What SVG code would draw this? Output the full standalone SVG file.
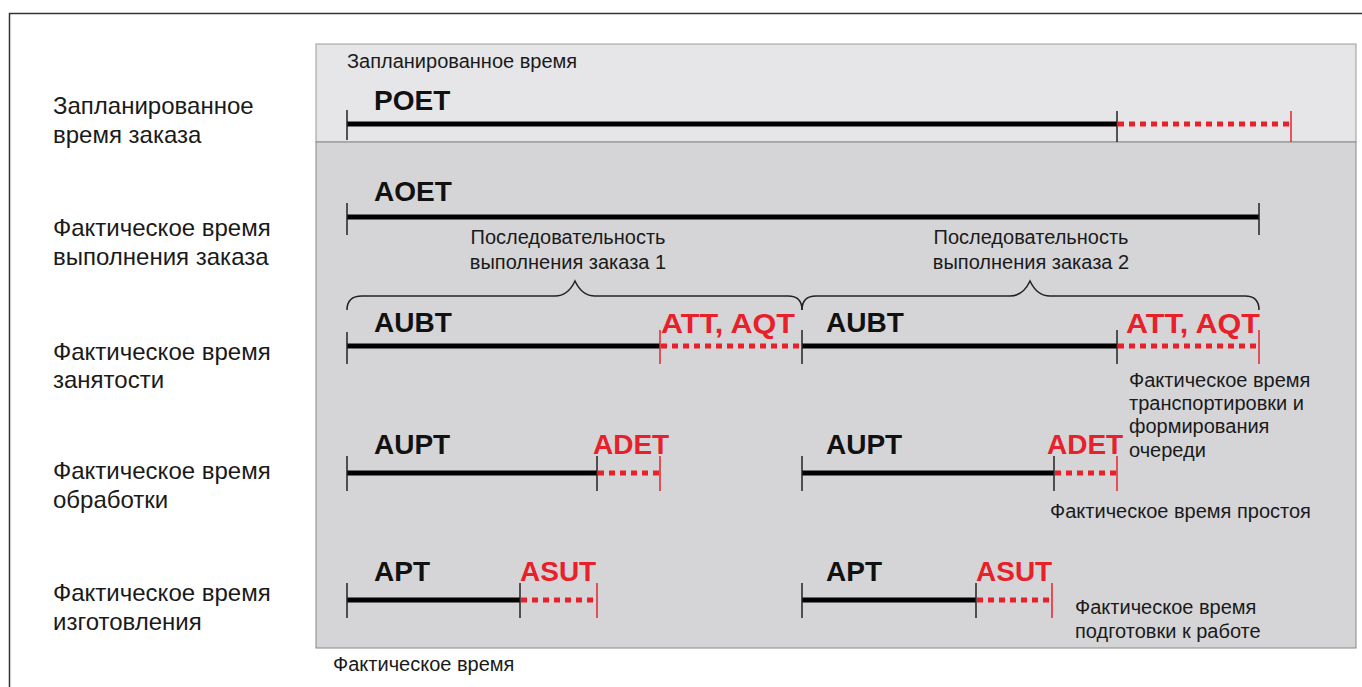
<svg xmlns="http://www.w3.org/2000/svg" width="1362" height="687" viewBox="0 0 1362 687">
<style>
.lab{font-family:"Liberation Sans",Arial,sans-serif;font-size:24px;fill:#1a1a1a}
.sm{font-family:"Liberation Sans",Arial,sans-serif;font-size:20px;fill:#1a1a1a}
.b{font-family:"Liberation Sans",Arial,sans-serif;font-size:28px;font-weight:bold;fill:#111}
.r{font-family:"Liberation Sans",Arial,sans-serif;font-size:28px;font-weight:bold;fill:#e8202a}
.bl{stroke:#000;stroke-width:5;fill:none}
.rd{stroke:#e8202a;stroke-width:5;stroke-dasharray:6 5;fill:none}
.tk{stroke:#222;stroke-width:1.5}
.tr{stroke:#e8202a;stroke-width:1.5}
.br{stroke:#222;stroke-width:1.5;fill:none}
</style>
<rect width="1362" height="687" fill="#fff"/>
<path d="M9.5 690 V13.5 H1362" fill="none" stroke="#333" stroke-width="1.5"/>
<g id="panel">
<rect x="316" y="44" width="1040" height="98" fill="#e6e6e8" stroke="#999" stroke-width="1"/>
<rect x="316" y="142" width="1040" height="506" fill="#d5d5d7" stroke="#888" stroke-width="1"/>
</g>
<g id="labels">
<text class="lab" x="53" y="114">Запланированное</text>
<text class="lab" x="53" y="143">время заказа</text>
<text class="lab" x="53" y="236">Фактическое время</text>
<text class="lab" x="53" y="265">выполнения заказа</text>
<text class="lab" x="53" y="360">Фактическое время</text>
<text class="lab" x="53" y="388">занятости</text>
<text class="lab" x="53" y="479">Фактическое время</text>
<text class="lab" x="53" y="508">обработки</text>
<text class="lab" x="53" y="601">Фактическое время</text>
<text class="lab" x="53" y="630">изготовления</text>
<text class="sm" x="347" y="68">Запланированное время</text>
<text class="sm" x="333" y="671">Фактическое время</text>
</g>
<g id="poet">
<text class="b" x="374" y="110">POET</text>
<line class="bl" x1="347" y1="124" x2="1117" y2="124"/>
<line class="rd" x1="1118" y1="124" x2="1291" y2="124"/>
<line class="tk" x1="347" y1="110" x2="347" y2="140"/>
<line class="tk" x1="1117" y1="111" x2="1117" y2="142"/>
<line class="tr" x1="1291" y1="111" x2="1291" y2="142"/>
</g>
<g id="aoet">
<text class="b" x="374" y="201">AOET</text>
<line class="bl" x1="347" y1="217" x2="1259" y2="217"/>
<line class="tk" x1="347" y1="203" x2="347" y2="235"/>
<line class="tk" x1="1259" y1="203" x2="1259" y2="235"/>
</g>
<g id="seq1">
<text class="sm" x="568" y="244" text-anchor="middle">Последовательность</text>
<text class="sm" x="568" y="269" text-anchor="middle">выполнения заказа 1</text>
<path class="br" d="M347 310 Q347 296 362 296 H555 Q568 296 575 281 Q582 296 595 296 H788 Q802 296 802 310"/>
</g>
<g id="seq2">
<text class="sm" x="1031" y="244" text-anchor="middle">Последовательность</text>
<text class="sm" x="1031" y="269" text-anchor="middle">выполнения заказа 2</text>
<path class="br" d="M802 310 Q802 296 816 296 H1010 Q1023 296 1030 281 Q1037 296 1050 296 H1245 Q1259 296 1259 310"/>
</g>
<g id="aubt">
<text class="b" x="374" y="332">AUBT</text>
<text class="r" x="661" y="333" font-size="30" textLength="134" lengthAdjust="spacingAndGlyphs">ATT, AQT</text>
<text class="b" x="826" y="332">AUBT</text>
<text class="r" x="1126" y="333" font-size="30" textLength="134" lengthAdjust="spacingAndGlyphs">ATT, AQT</text>
<line class="bl" x1="347" y1="346" x2="660" y2="346"/>
<line class="rd" x1="661" y1="346" x2="802" y2="346"/>
<line class="bl" x1="802" y1="346" x2="1117" y2="346"/>
<line class="rd" x1="1118" y1="346" x2="1259" y2="346"/>
<line class="tk" x1="347" y1="332" x2="347" y2="364"/>
<line class="tr" x1="660" y1="330" x2="660" y2="364"/>
<line class="tk" x1="802" y1="330" x2="802" y2="364"/>
<line class="tk" x1="1117" y1="330" x2="1117" y2="364"/>
<line class="tr" x1="1259" y1="330" x2="1259" y2="364"/>
<text class="sm" x="1129" y="387">Фактическое время</text>
<text class="sm" x="1129" y="410">транспортировки и</text>
<text class="sm" x="1129" y="433">формирования</text>
<text class="sm" x="1129" y="457">очереди</text>
</g>
<g id="aupt">
<text class="b" x="374" y="454">AUPT</text>
<text class="r" x="593" y="454">ADET</text>
<text class="b" x="826" y="454">AUPT</text>
<text class="r" x="1047" y="454">ADET</text>
<line class="bl" x1="347" y1="473" x2="597" y2="473"/>
<line class="rd" x1="598" y1="473" x2="660" y2="473"/>
<line class="bl" x1="802" y1="473" x2="1054" y2="473"/>
<line class="rd" x1="1055" y1="473" x2="1117" y2="473"/>
<line class="tk" x1="347" y1="456" x2="347" y2="491"/>
<line class="tk" x1="597" y1="456" x2="597" y2="491"/>
<line class="tr" x1="660" y1="456" x2="660" y2="491"/>
<line class="tk" x1="802" y1="456" x2="802" y2="491"/>
<line class="tk" x1="1054" y1="456" x2="1054" y2="491"/>
<line class="tr" x1="1117" y1="456" x2="1117" y2="491"/>
<text class="sm" x="1050" y="518">Фактическое время простоя</text>
</g>
<g id="apt">
<text class="b" x="374" y="581">APT</text>
<text class="r" x="520" y="581">ASUT</text>
<text class="b" x="826" y="581">APT</text>
<text class="r" x="976" y="581">ASUT</text>
<line class="bl" x1="347" y1="600" x2="520" y2="600"/>
<line class="rd" x1="521" y1="600" x2="597" y2="600"/>
<line class="bl" x1="802" y1="600" x2="976" y2="600"/>
<line class="rd" x1="977" y1="600" x2="1052" y2="600"/>
<line class="tk" x1="347" y1="583" x2="347" y2="618"/>
<line class="tk" x1="520" y1="583" x2="520" y2="618"/>
<line class="tr" x1="597" y1="583" x2="597" y2="618"/>
<line class="tk" x1="802" y1="583" x2="802" y2="618"/>
<line class="tk" x1="976" y1="583" x2="976" y2="618"/>
<line class="tr" x1="1052" y1="583" x2="1052" y2="618"/>
<text class="sm" x="1075" y="614">Фактическое время</text>
<text class="sm" x="1075" y="638">подготовки к работе</text>
</g>
</svg>
